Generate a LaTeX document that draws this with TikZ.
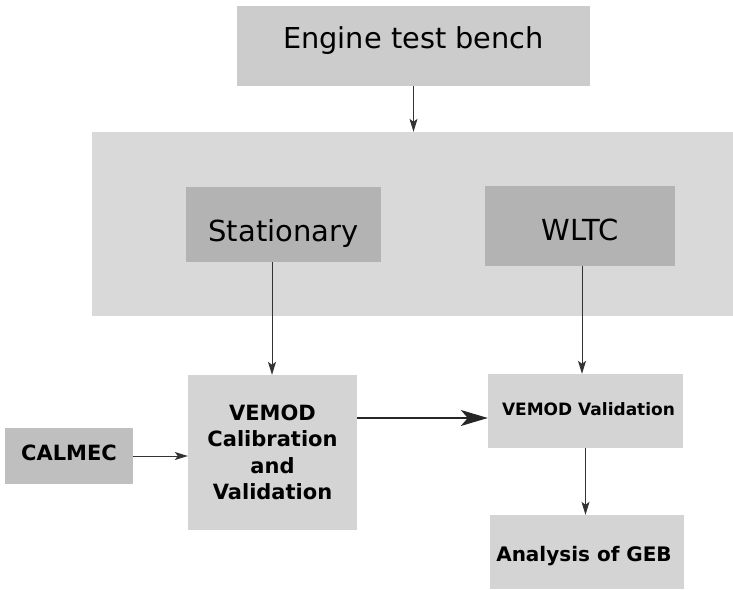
\documentclass[tikz,border=0pt]{standalone}
\usepackage{fontspec}
\setmainfont{DejaVu Sans}
\usetikzlibrary{arrows.meta}
\definecolor{benchgray}{HTML}{CCCCCC}
\definecolor{panelgray}{HTML}{D9D9D9}
\definecolor{modegray}{HTML}{B3B3B3}
\definecolor{stepgray}{HTML}{D4D4D4}
\definecolor{calgray}{HTML}{BFBFBF}
\tikzset{
  box/.style={rectangle, inner sep=0pt, align=center, text=black},
  % baseline placed #1 below the box centre
  base/.style={text height=2*#1, text depth=0pt},
  link/.style={draw=black!80, line width=0.9pt, -{Stealth[length=13pt,width=8pt,inset=3pt]}},
  biglink/.style={draw=black!85, line width=1.4pt, -{Stealth[length=27pt,width=16pt,inset=7pt]}}
}
\newcommand{\fsz}[2]{\fontsize{#1}{#2}\selectfont}
\begin{document}
\begin{tikzpicture}[x=1pt,y=-1pt]
  \useasboundingbox (0,0) rectangle (733,589);
  % background panel holding the two test modes
  \node[box, fill=panelgray, minimum width=641pt, minimum height=184pt] (panel) at (412.5,224) {};
  % top source
  \node[box, base=2.5pt, fill=benchgray, minimum width=353pt, minimum height=80pt, font=\fsz{28.8}{34}] (bench) at (413.5,46) {Engine test bench};
  % test modes
  \node[box, base=17pt, fill=modegray, minimum width=195pt, minimum height=75pt, font=\fsz{29}{34}] (stat) at (283.5,224.5) {Stationary};
  \node[box, base=14pt, fill=modegray, minimum width=190pt, minimum height=80pt, font=\fsz{29}{34}] (wltc) at (580,226) {WLTC};
  % processing steps
  \node[box, fill=stepgray, minimum width=169pt, minimum height=155pt, font=\bfseries\fsz{21}{26.5}, align=center] (cal) at (272.5,452.5)
    {VEMOD\\Calibration\\and\\Validation};
  \node[box, base=4pt, fill=calgray, minimum width=128pt, minimum height=56pt, font=\bfseries\fsz{21}{26}] (calmec) at (69,456) {CALMEC};
  \node[box, base=4.7pt, fill=stepgray, minimum width=195pt, minimum height=74pt, font=\bfseries\fsz{17}{21}] (val) at (585.5,411) {\hspace*{6pt}VEMOD Validation};
  \node[box, base=9pt, fill=stepgray, minimum width=194pt, minimum height=74pt, font=\bfseries\fsz{20}{24}] (geb) at (587,552) {Analysis of GEB\hspace*{6pt}};
  % connectors
  \draw[link] (bench.south) -- (panel.north -| bench.south);
  \draw[link] ([xshift=-11.5pt]stat.south) -- ([xshift=-11.5pt]stat.south |- cal.north);
  \draw[link] ([xshift=2pt]wltc.south) -- ([xshift=2pt]wltc.south |- val.north);
  \draw[link] (calmec.east) -- (calmec.east -| cal.west);
  \draw[biglink] ([yshift=34.5pt]cal.east) -- ([yshift=34.5pt]cal.east -| val.west);
  \draw[link] (val.south) -- (val.south |- geb.north);
\end{tikzpicture}
\end{document}
